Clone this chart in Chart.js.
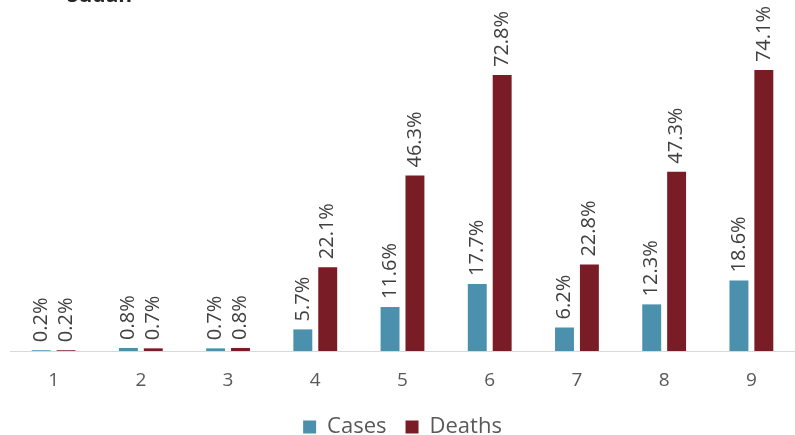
<!DOCTYPE html>
<html>
<head>
<meta charset="utf-8">
<script src="https://cdn.jsdelivr.net/npm/chart.js@4"></script>
<style>
    html, body { margin: 0; padding: 0; background: #fff; }
    #wrap { position: relative; width: 795px; height: 435px; overflow: hidden; }
    #title {
        position: absolute; left: 67px; top: -20px;
        font: bold 21px "Open Sans", sans-serif; color: #262626;
    }
</style>
</head>
<body>
<div id="wrap">
    <div id="title">Sudan</div>
    <canvas id="myChart"></canvas>
</div>
<script>
// Share of cases and deaths per group
const categories = ['1', '2', '3', '4', '5', '6', '7', '8', '9'];
const casesPct = [0.2, 0.8, 0.7, 5.7, 11.6, 17.7, 6.2, 12.3, 18.6];
const deathsPct = [0.2, 0.7, 0.8, 22.1, 46.3, 72.8, 22.8, 47.3, 74.1];

// Draws each bar's value rotated above it
const barLabels = {
    id: 'barLabels',
    afterDatasetsDraw(chart) {
        const ctx = chart.ctx;
        ctx.save();
        ctx.font = '20px "Open Sans", sans-serif';
        ctx.fillStyle = '#404040';
        ctx.textAlign = 'left';
        ctx.textBaseline = 'middle';
        chart.data.datasets.forEach((ds, i) => {
            chart.getDatasetMeta(i).data.forEach((bar, j) => {
                ctx.save();
                ctx.translate(bar.x, bar.y - 8);
                ctx.rotate(-Math.PI / 2);
                ctx.fillText(ds.data[j].toFixed(1) + '%', 0, 0);
                ctx.restore();
            });
        });
        ctx.restore();
    }
};

document.addEventListener('DOMContentLoaded', function () {
    const ctx = document.getElementById('myChart').getContext('2d');

    new Chart(ctx, {
        type: 'bar',
        data: {
            labels: categories,
            datasets: [{
                label: 'Cases',
                data: casesPct,
                backgroundColor: '#4b90ad',
                barPercentage: 0.76,
                categoryPercentage: 0.571
            }, {
                label: 'Deaths',
                data: deathsPct,
                backgroundColor: '#7a1c25',
                barPercentage: 0.76,
                categoryPercentage: 0.571
            }]
        },
        options: {
            responsive: true,
            maintainAspectRatio: false,
            animation: false,
            layout: { padding: { left: 10, right: 0, top: 0, bottom: -13 } },
            plugins: {
                legend: {
                    position: 'bottom',
                    labels: {
                        boxWidth: 13,
                        boxHeight: 13,
                        padding: 19,
                        color: '#595959',
                        font: { family: '"Open Sans", sans-serif', size: 22 }
                    }
                },
                tooltip: { enabled: false }
            },
            scales: {
                x: {
                    grid: { display: false, drawTicks: false },
                    border: { color: '#d9d9d9', width: 1 },
                    ticks: {
                        color: '#595959',
                        padding: 18,
                        font: { family: '"Open Sans", sans-serif', size: 19 }
                    },
                    afterFit(scale) {
                        scale.height = 46;
                    }
                },
                y: {
                    display: false,
                    min: 0,
                    max: 92.6
                }
            }
        },
        plugins: [barLabels]
    });
});
</script>
</body>
</html>
